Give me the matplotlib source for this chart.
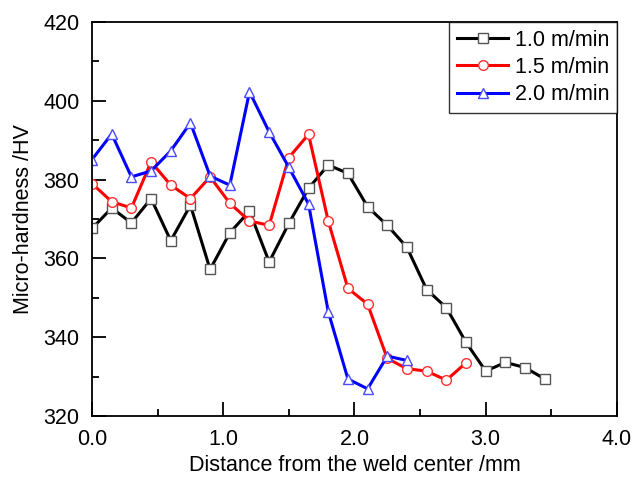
import matplotlib
matplotlib.use("Agg")
import matplotlib.pyplot as plt
from matplotlib.ticker import MultipleLocator, FormatStrFormatter

plt.rcParams["font.family"] = ["Liberation Sans", "DejaVu Sans"]

# distance from weld center (mm), step 0.15
X_10 = [0.0, 0.15, 0.3, 0.45, 0.6, 0.75, 0.9, 1.05, 1.2, 1.35, 1.5, 1.65,
        1.8, 1.95, 2.1, 2.25, 2.4, 2.55, 2.7, 2.85, 3.0, 3.15, 3.3, 3.45]
HV_10 = [367.6, 372.8, 369.0, 375.2, 364.5, 373.5, 357.2, 366.5, 372.0, 359.1, 368.9, 377.8,
         383.7, 381.6, 373.1, 368.4, 362.8, 352.1, 347.5, 338.7, 331.4, 333.6, 332.3, 329.4]

X_15 = [0.0, 0.15, 0.3, 0.45, 0.6, 0.75, 0.9, 1.05, 1.2, 1.35, 1.5, 1.65,
        1.8, 1.95, 2.1, 2.25, 2.4, 2.55, 2.7, 2.85]
HV_15 = [379.0, 374.4, 372.8, 384.5, 378.6, 375.2, 380.7, 374.0, 369.5, 368.4, 385.6, 391.5,
         369.5, 352.4, 348.4, 334.6, 332.0, 331.4, 329.1, 333.5]

X_20 = [0.0, 0.15, 0.3, 0.45, 0.6, 0.75, 0.9, 1.05, 1.2, 1.35, 1.5, 1.65,
        1.8, 1.95, 2.1, 2.25, 2.4]
HV_20 = [385.1, 391.6, 380.7, 382.2, 387.3, 394.4, 380.9, 378.6, 402.3, 392.1, 383.1, 373.8,
         346.5, 329.4, 326.9, 335.2, 334.1]

LABELS = ["1.0 m/min", "1.5 m/min", "2.0 m/min"]
FS = 15.5

fig = plt.figure(figsize=(6.36, 4.79), dpi=100)
ax = fig.add_axes([0.1447, 0.1315, 0.8253, 0.8225])

ax.plot(X_10, HV_10, color="black", lw=2.2, marker="s", ms=6.5, mfc="white",
        mec="#555555", mew=1.0, label=LABELS[0])
ax.plot(X_15, HV_15, color="#ff0000", lw=2.2, marker="o", ms=7, mfc="white",
        mec="#ff3030", mew=1.0, label=LABELS[1])
ax.plot(X_20, HV_20, color="#0000ff", lw=2.2, marker="^", ms=7.5, mfc="white",
        mec="#4a4aff", mew=1.0, label=LABELS[2])

ax.set_xlim(0, 4.0)
ax.set_ylim(320, 420)
ax.xaxis.set_major_locator(MultipleLocator(1.0))
ax.xaxis.set_minor_locator(MultipleLocator(0.5))
ax.yaxis.set_major_locator(MultipleLocator(20))
ax.yaxis.set_minor_locator(MultipleLocator(10))
ax.xaxis.set_major_formatter(FormatStrFormatter("%.1f"))
ax.tick_params(which="both", direction="in", top=False, right=False, labelsize=FS, width=1.3)
ax.tick_params(which="major", length=10, pad=9)
ax.tick_params(which="minor", length=5)
for s in ax.spines.values():
    s.set_linewidth(1.3)

ax.set_xlabel("Distance from the weld center /mm", fontsize=FS, labelpad=4)
ax.set_ylabel("Micro-hardness /HV", fontsize=FS, labelpad=7)

leg = ax.legend(loc="upper right", fontsize=FS, frameon=True, fancybox=False,
                edgecolor="black", handlelength=2.4, borderaxespad=0.0,
                labelspacing=0.3, handletextpad=0.3, borderpad=0.35)
leg.get_frame().set_linewidth(1.0)

fig.savefig("out.png", dpi=100)
